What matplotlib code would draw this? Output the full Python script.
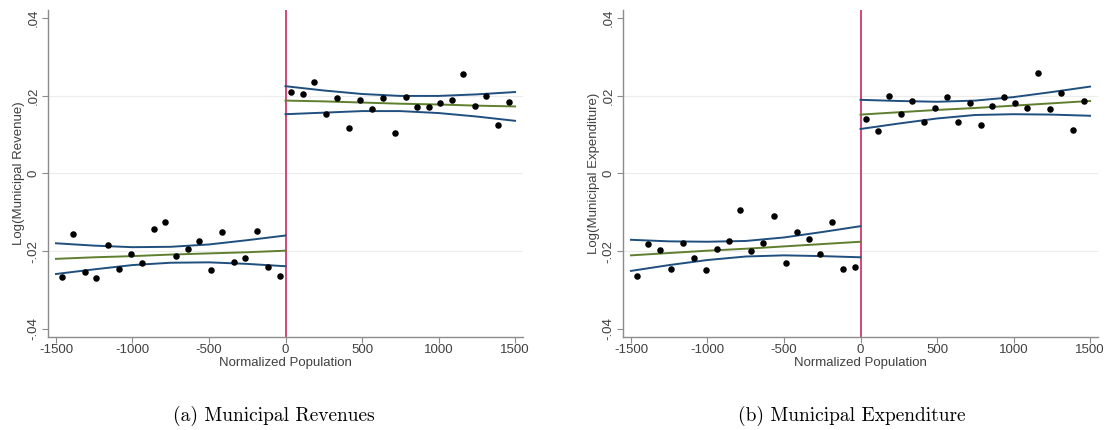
import numpy as np
import matplotlib
matplotlib.use('Agg')
import matplotlib.pyplot as plt

plt.rcParams['font.family'] = ['Liberation Sans', 'DejaVu Sans']

# bin centres (normalized population)
bins_left = np.arange(-1462.5, 0, 75)
bins_right = np.arange(37.5, 1500, 75)

# Panel (a): Log(Municipal Revenue) bin means
rev_left = [-0.0266, -0.0156, -0.0253, -0.0268, -0.0185, -0.0245, -0.0208, -0.0231, -0.0144, -0.0126,
            -0.0213, -0.0194, -0.0174, -0.0249, -0.0150, -0.0229, -0.0217, -0.0148, -0.0240, -0.0264]
rev_right = [0.0210, 0.0204, 0.0235, 0.0153, 0.0193, 0.0117, 0.0189, 0.0166, 0.0194, 0.0103,
             0.0197, 0.0170, 0.0171, 0.0180, 0.0188, 0.0255, 0.0173, 0.0198, 0.0123, 0.0184]

# Panel (b): Log(Municipal Expenditure) bin means
exp_left = [-0.0264, -0.0181, -0.0197, -0.0245, -0.0180, -0.0218, -0.0249, -0.0194, -0.0175, -0.0094,
            -0.0201, -0.0180, -0.0109, -0.0231, -0.0152, -0.0170, -0.0208, -0.0126, -0.0245, -0.0240]
exp_right = [0.0140, 0.0110, 0.0200, 0.0153, 0.0186, 0.0132, 0.0168, 0.0195, 0.0132, 0.0180,
             0.0123, 0.0172, 0.0196, 0.0182, 0.0169, 0.0257, 0.0165, 0.0207, 0.0111, 0.0186]

# fitted line and 95% CI, read at these x positions
ci_x_left = [-1500, -1250, -1000, -750, -500, -250, 0]
ci_x_right = [0, 250, 500, 750, 1000, 1250, 1500]

rev_fit_left = [-0.0220, -0.0216, -0.0213, -0.0209, -0.0206, -0.0203, -0.0199]
rev_up_left = [-0.0180, -0.0186, -0.0190, -0.0189, -0.0183, -0.0172, -0.0160]
rev_lo_left = [-0.0259, -0.0247, -0.0236, -0.0230, -0.0229, -0.0233, -0.0239]
rev_fit_right = [0.0187, 0.0185, 0.0182, 0.0179, 0.0177, 0.0174, 0.0172]
rev_up_right = [0.0224, 0.0213, 0.0204, 0.0199, 0.0199, 0.0203, 0.0209]
rev_lo_right = [0.0152, 0.0156, 0.0160, 0.0160, 0.0155, 0.0146, 0.0135]

exp_fit_left = [-0.0211, -0.0205, -0.0199, -0.0194, -0.0188, -0.0182, -0.0176]
exp_up_left = [-0.0171, -0.0175, -0.0176, -0.0174, -0.0165, -0.0151, -0.0136]
exp_lo_left = [-0.0251, -0.0236, -0.0223, -0.0214, -0.0211, -0.0213, -0.0216]
exp_fit_right = [0.0151, 0.0157, 0.0163, 0.0168, 0.0174, 0.0180, 0.0186]
exp_up_right = [0.0189, 0.0186, 0.0184, 0.0187, 0.0196, 0.0209, 0.0223]
exp_lo_right = [0.0114, 0.0128, 0.0141, 0.0150, 0.0152, 0.0151, 0.0148]

yticks = [-0.04, -0.02, 0, 0.02, 0.04]
ytick_labels = ['-.04', '-.02', '0', '.02', '.04']
xticks = [-1500, -1000, -500, 0, 500, 1000, 1500]

BLUE = '#1f4f7e'
GREEN = '#5f7f2f'
RED = '#d2467a'
GREY = '#8c8c8c'
TXT = '#404040'

fig = plt.figure(figsize=(11.07, 4.30), dpi=100)


def panel(ax, ylabel, yl, yr, fl, ul, ll, fr, ur, lr):
    ax.axhline(0.02, color='#ececec', lw=0.8, zorder=0)
    ax.axhline(0.0, color='#ececec', lw=0.8, zorder=0)
    ax.axhline(-0.02, color='#ececec', lw=0.8, zorder=0)
    ax.axvline(0, color=RED, lw=1.4, zorder=2)

    for xs, f, u, l in [(ci_x_left, fl, ul, ll), (ci_x_right, fr, ur, lr)]:
        ax.plot(xs, u, color=BLUE, lw=1.4, zorder=3)
        ax.plot(xs, l, color=BLUE, lw=1.4, zorder=3)
        ax.plot(xs, f, color=GREEN, lw=1.4, zorder=3)

    ax.scatter(bins_left, yl, s=22, color='black', zorder=4, linewidths=0)
    ax.scatter(bins_right, yr, s=22, color='black', zorder=4, linewidths=0)

    ax.set_xlim(-1552, 1552)
    ax.set_ylim(-0.0421, 0.042)
    ax.set_xticks(xticks)
    ax.set_xticklabels([str(v) for v in xticks], fontsize=9.5, color=TXT)
    ax.set_yticks(yticks)
    ax.set_yticklabels(ytick_labels, fontsize=9.5, color=TXT, rotation=90, va='center')
    ax.tick_params(length=4, width=0.8, color=GREY, pad=2)
    ax.tick_params(axis='x', pad=1)
    for s in ['top', 'right']:
        ax.spines[s].set_visible(False)
    for s in ['left', 'bottom']:
        ax.spines[s].set_color(GREY)
        ax.spines[s].set_linewidth(1.0)
    ax.set_xlabel('Normalized Population', fontsize=9.5, color=TXT, labelpad=1)
    ax.set_ylabel(ylabel, fontsize=9.5, color=TXT, labelpad=2)


ax1 = fig.add_axes([48 / 1107, 93 / 430, 475 / 1107, 327 / 430])
panel(ax1, 'Log(Municipal Revenue)', rev_left, rev_right,
      rev_fit_left, rev_up_left, rev_lo_left, rev_fit_right, rev_up_right, rev_lo_right)

ax2 = fig.add_axes([623 / 1107, 93 / 430, 475 / 1107, 327 / 430])
panel(ax2, 'Log(Municipal Expenditure)', exp_left, exp_right,
      exp_fit_left, exp_up_left, exp_lo_left, exp_fit_right, exp_up_right, exp_lo_right)

fig.text(274 / 1107, 1 - 416 / 430, '(a) Municipal Revenues', family='cmr10', fontsize=14,
         ha='center', va='center', color='black')
fig.text(852 / 1107, 1 - 416 / 430, '(b) Municipal Expenditure', family='cmr10', fontsize=14,
         ha='center', va='center', color='black')

plt.savefig('out.png', dpi=100)
